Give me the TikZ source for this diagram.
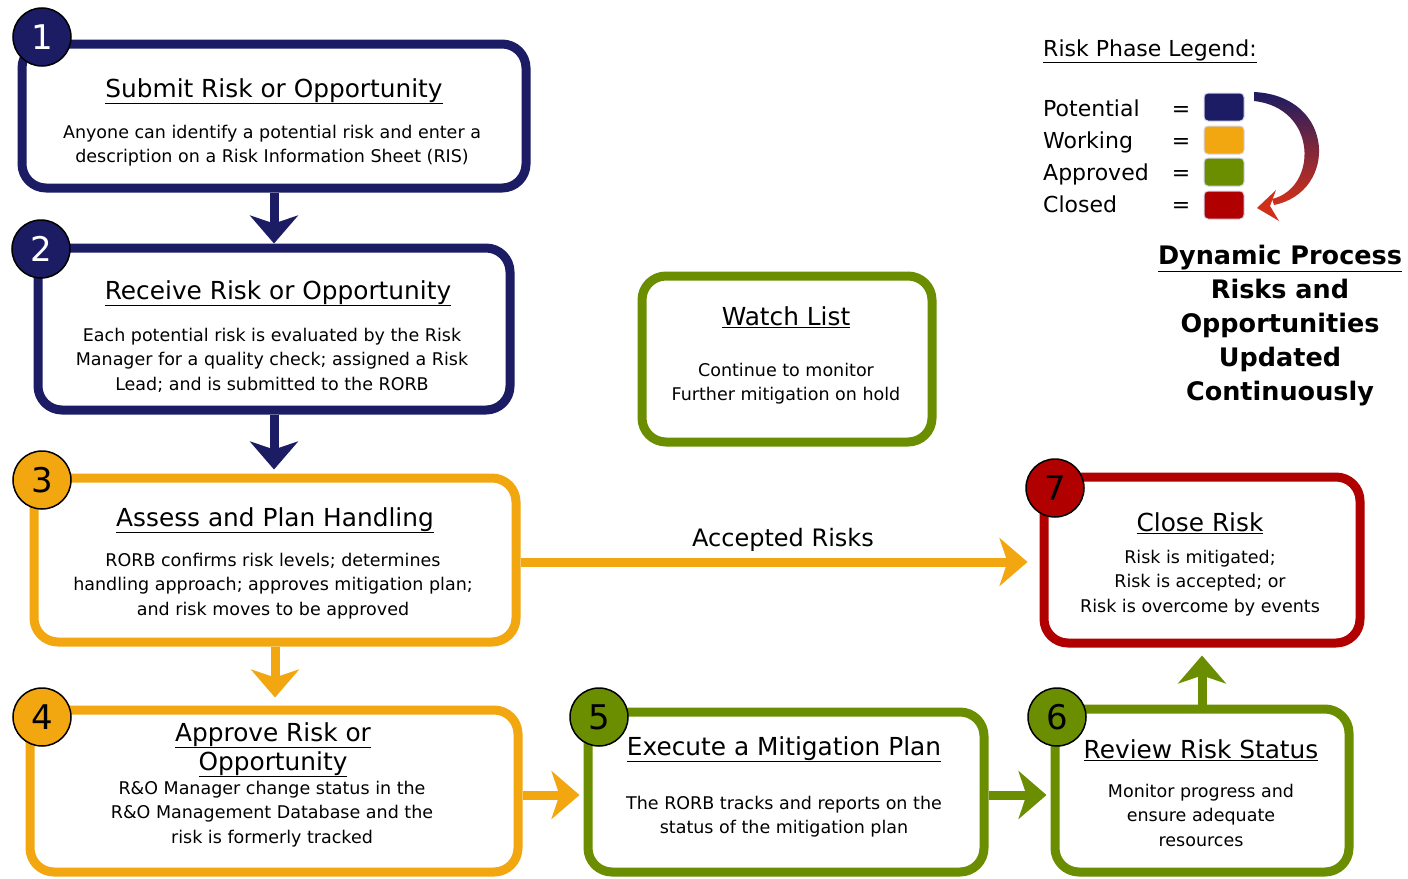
\documentclass[tikz,border=0pt]{standalone}
\usepackage{fontspec}
\setmainfont{DejaVu Sans}
\usetikzlibrary{arrows.meta}
\definecolor{rnavy}{HTML}{1B1C63}
\definecolor{rorange}{HTML}{F2A60F}
\definecolor{rgreen}{HTML}{6B8E00}
\definecolor{rred}{HTML}{B00000}
\definecolor{arrred}{HTML}{D0301A}
\definecolor{sqedge}{HTML}{D4D4EC}
\begin{document}
\begin{tikzpicture}[x=1pt,y=-1pt,
  box/.style={draw, line width=9pt, rounded corners=24pt, fill=white, inner sep=0pt},
  numc/.style={circle, draw=black, line width=1.5pt, minimum size=58pt, inner sep=0pt, font=\fontsize{34}{34}\selectfont},
  ttl/.style={font=\fontsize{24.8}{29}\selectfont, align=center, inner sep=0pt, anchor=base},
  bod/.style={font=\fontsize{17.5}{24.5}\selectfont, align=center, inner sep=0pt, anchor=base},
  flow/.style={line width=9pt, -{Stealth[length=28pt,width=48pt,inset=8pt]}},
  lgtxt/.style={font=\fontsize{22}{26}\selectfont, inner sep=0pt, anchor=base west},
  sq/.style={rectangle, rounded corners=4pt, minimum width=40pt, minimum height=28pt, draw=sqedge, line width=1pt, inner sep=0pt}
]
\useasboundingbox (0,0) rectangle (1408,878);
\fill[white] (0,0) rectangle (1408,878);

% boxes
\node[box, draw=rnavy, minimum width=504pt, minimum height=144pt] (b1) at (274,116) {};
\node[box, draw=rnavy, minimum width=472pt, minimum height=162pt] (b2) at (274,329) {};
\node[box, draw=rorange, minimum width=482pt, minimum height=164pt] (b3) at (275,560) {};
\node[box, draw=rorange, minimum width=488pt, minimum height=162pt] (b4) at (274,791) {};
\node[box, draw=rgreen, minimum width=290pt, minimum height=166pt] (wl) at (787,359) {};
\node[box, draw=rgreen, minimum width=396pt, minimum height=160pt] (b5) at (786,792) {};
\node[box, draw=rgreen, minimum width=294pt, minimum height=163pt] (b6) at (1202,790.5) {};
\node[box, draw=rred, minimum width=316pt, minimum height=166pt] (b7) at (1202,560) {};

% connectors
\draw[flow, rnavy] (b1.south) -- (b2.north);
\draw[flow, rnavy, shorten >=4pt] (b2.south) -- (b2.south |- b3.north);
\draw[flow, rorange, shorten >=8pt] (b3.south) -- (b3.south |- b4.north);
\draw[flow, rorange, shorten >=12pt] (b3.east |- 0,562) -- (b7.west |- 0,562);
\draw[flow, rorange, shorten >=4pt] (b4.east |- 0,795) -- (b5.west |- 0,795);
\draw[flow, rgreen, shorten >=4pt] (b5.east |- 0,795) -- (b6.west |- 0,795);
\draw[flow, rgreen, shorten >=8pt] (b6.north) -- (b7.south);
\node[font=\fontsize{24}{28}\selectfont, inner sep=0pt, anchor=base] (acc) at (783,546) {Accepted Risks};

% number circles
\node[numc, fill=rnavy, text=white] (c1) at (42,37) {1};
\node[numc, fill=rnavy, text=white] (c2) at (41,249) {2};
\node[numc, fill=rorange] (c3) at (42,480) {3};
\node[numc, fill=rorange] (c4) at (42,717) {4};
\node[numc, fill=rgreen] (c5) at (599,717) {5};
\node[numc, fill=rgreen] (c6) at (1057,717) {6};
\node[numc, fill=rred] (c7) at (1055,488) {7};

% texts (anchor base = baseline of last line)
\node[ttl] (t1) at (274,97) {\underline{Submit Risk or Opportunity}};
\node[bod] (d1) at (272,162.5) {Anyone can identify a potential risk and enter a\\description on a Risk Information Sheet (RIS)};

\node[ttl] (t2) at (278,299) {\underline{Receive Risk or Opportunity}};
\node[bod] (d2) at (272,390) {Each potential risk is evaluated by the Risk\\Manager for a quality check; assigned a Risk\\Lead; and is submitted to the RORB};

\node[ttl] (t3) at (275,526) {\underline{Assess and Plan Handling}};
\node[bod] (d3) at (273,615) {RORB confirms risk levels; determines\\handling approach; approves mitigation plan;\\and risk moves to be approved};

\node[ttl] (t4) at (273,770) {\underline{Approve Risk or}\\\underline{Opportunity}};
\node[bod] (d4) at (272,843) {R\&O Manager change status in the\\R\&O Management Database and the\\risk is formerly tracked};

\node[ttl] (twl) at (786,325) {\underline{Watch List}};
\node[bod] (dwl) at (786,400.5) {Continue to monitor\\Further mitigation on hold};

\node[ttl] (t5) at (784,755) {\underline{Execute a Mitigation Plan}};
\node[bod] (d5) at (784,833.5) {The RORB tracks and reports on the\\status of the mitigation plan};

\node[ttl] (t6) at (1201,758) {\underline{Review Risk Status}};
\node[bod] (d6) at (1201,846) {Monitor progress and\\ensure adequate\\resources};

\node[ttl] (t7) at (1200,531) {\underline{Close Risk}};
\node[bod] (d7) at (1200,612) {Risk is mitigated;\\Risk is accepted; or\\Risk is overcome by events};

% legend
\node[lgtxt] (lgt) at (1043,56) {\underline{Risk Phase Legend:}};
\node[lgtxt] (lp) at (1043,116) {Potential};
\node[lgtxt] (lw) at (1043,148) {Working};
\node[lgtxt] (la) at (1043,180) {Approved};
\node[lgtxt] (lc) at (1043,212) {Closed};
\node[lgtxt, anchor=base] (e1) at (1181,116) {=};
\node[lgtxt, anchor=base] (e2) at (1181,148) {=};
\node[lgtxt, anchor=base] (e3) at (1181,180) {=};
\node[lgtxt, anchor=base] (e4) at (1181,212) {=};
\node[sq, fill=rnavy] (s1) at (1224,107) {};
\node[sq, fill=rorange] (s2) at (1224,140) {};
\node[sq, fill=rgreen] (s3) at (1224,172) {};
\node[sq, fill=rred] (s4) at (1224,205) {};

\shade[top color=rnavy, bottom color=arrred, middle color=rnavy!45!arrred]
  (1254,92) .. controls (1336,96) and (1338,192) .. (1274,205)
  -- (1272,199) .. controls (1318,188) and (1318,108) .. (1254,101) -- cycle;
\fill[arrred] (1257,208) -- (1276,190) -- (1270,206) -- (1279,221) -- cycle;

\node[font=\bfseries\fontsize{25.5}{34}\selectfont, align=center, inner sep=0pt, anchor=base] (dyn) at (1280,400) {\underline{Dynamic Process}\\Risks and\\Opportunities\\Updated\\Continuously};
\end{tikzpicture}
\end{document}
